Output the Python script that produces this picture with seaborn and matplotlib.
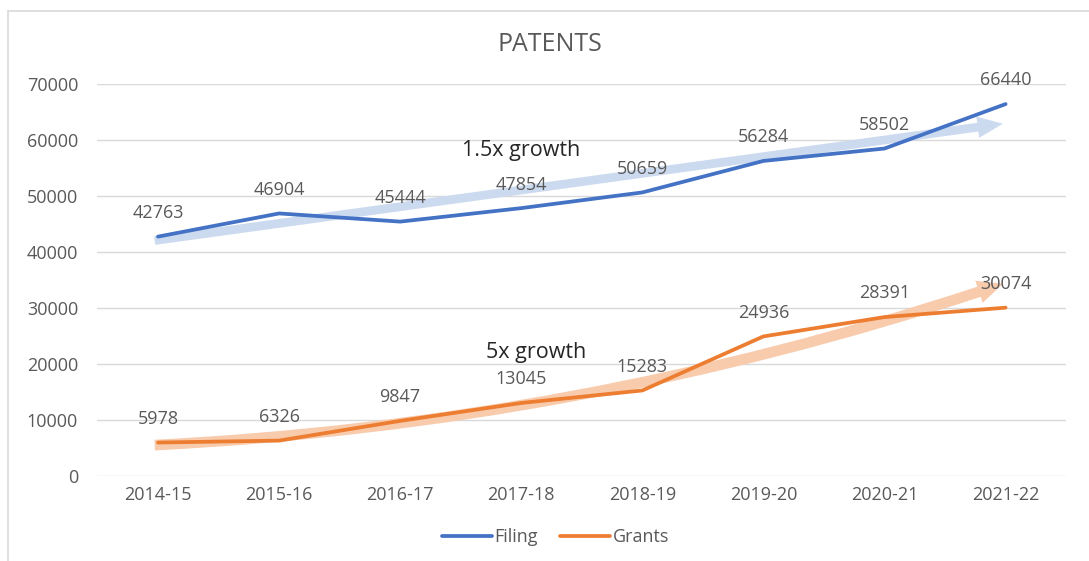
import matplotlib
matplotlib.use("Agg")
import matplotlib.pyplot as plt
from matplotlib.patches import FancyArrowPatch
from matplotlib.lines import Line2D
import seaborn as sns
import pandas as pd

years = ["2014-15", "2015-16", "2016-17", "2017-18", "2018-19", "2019-20", "2020-21", "2021-22"]
filing = [42763, 46904, 45444, 47854, 50659, 56284, 58502, 66440]
grants = [5978, 6326, 9847, 13045, 15283, 24936, 28391, 30074]
series_names = ["Filing", "Grants"]
title = "PATENTS"
yticks = [0, 10000, 20000, 30000, 40000, 50000, 60000, 70000]

# trend annotations (start value, end value, label, label position)
blue_trend = (42000, 63000)
orange_trend = (5500, 34500)
blue_note = ("1.5x growth", 3.0, 58200)
orange_note = ("5x growth", 3.12, 22000)

sns.set_theme(style="white")
plt.rcParams['font.family'] = ['Open Sans', 'DejaVu Sans']

df = pd.DataFrame({"year": years * 2,
                   "value": filing + grants,
                   "series": [series_names[0]] * len(years) + [series_names[1]] * len(years)})
df["x"] = list(range(len(years))) * 2

blue = "#4472C4"
orange = "#ED7D31"
gray = "#595959"
fs = 13

fig = plt.figure(figsize=(10.89, 5.61), dpi=100)
ax = fig.add_axes([0.0895, 0.1515, 0.8895, 0.6985])

# trend arrows
n = len(years)
arr1 = FancyArrowPatch((-0.05, blue_trend[0]), (n - 1, blue_trend[1]),
                       arrowstyle="simple,tail_width=0.45,head_width=1.1,head_length=1.3",
                       mutation_scale=14, color="#CCDAEF", lw=0, zorder=1)
arr2 = FancyArrowPatch((-0.05, orange_trend[0]), (n - 1, orange_trend[1]),
                       connectionstyle="arc3,rad=0.07",
                       arrowstyle="simple,tail_width=0.55,head_width=1.2,head_length=1.3",
                       mutation_scale=14, color="#F8CBAD", lw=0, zorder=1)
ax.add_patch(arr1)
ax.add_patch(arr2)

sns.lineplot(data=df, x="x", y="value", hue="series", palette=[blue, orange],
             linewidth=2.7, ax=ax, legend=False, zorder=3)

for vals in (filing, grants):
    for i, v in enumerate(vals):
        ax.annotate(str(v), (i, v), xytext=(0, 17), textcoords="offset points",
                    ha="center", va="center", fontsize=fs, color=gray, zorder=4)

ax.text(blue_note[1], blue_note[2], blue_note[0], ha="center", va="center",
        fontsize=15.5, color="#262626", zorder=5)
ax.text(orange_note[1], orange_note[2], orange_note[0], ha="center", va="center",
        fontsize=15.5, color="#262626", zorder=5)

ax.set_xlim(-0.5, n - 0.5)
ax.set_ylim(0, 70000)
ax.set_xticks(range(n))
ax.set_xticklabels(years)
ax.set_yticks(yticks)
ax.set_yticklabels([str(t) for t in yticks])
ax.tick_params(axis="both", labelsize=fs, colors=gray, length=0)
ax.tick_params(axis="y", pad=14)
ax.tick_params(axis="x", pad=7)
ax.set_xlabel("")
ax.set_ylabel("")
ax.grid(axis="y", color="#D9D9D9", linewidth=1)
ax.grid(axis="x", visible=False)
for s in ax.spines.values():
    s.set_visible(False)

fig.text(0.505, 0.921, title, ha="center", va="center", fontsize=18, color=gray)

handles = [Line2D([0], [0], color=blue, lw=2.7), Line2D([0], [0], color=orange, lw=2.7)]
fig.legend(handles, series_names, loc="center", bbox_to_anchor=(0.51, 0.043), ncol=2,
           frameon=False, fontsize=fs, labelcolor=gray, handlelength=2.77,
           handletextpad=0.15, columnspacing=1.2)

# chart border (left and top visible)
fig.add_artist(Line2D([0.0073, 0.0073], [0.0, 0.980], color="#D9D9D9", lw=1.2, transform=fig.transFigure))
fig.add_artist(Line2D([0.0073, 1.0], [0.980, 0.980], color="#D9D9D9", lw=1.2, transform=fig.transFigure))

fig.savefig("out.png", dpi=100, facecolor="white")
